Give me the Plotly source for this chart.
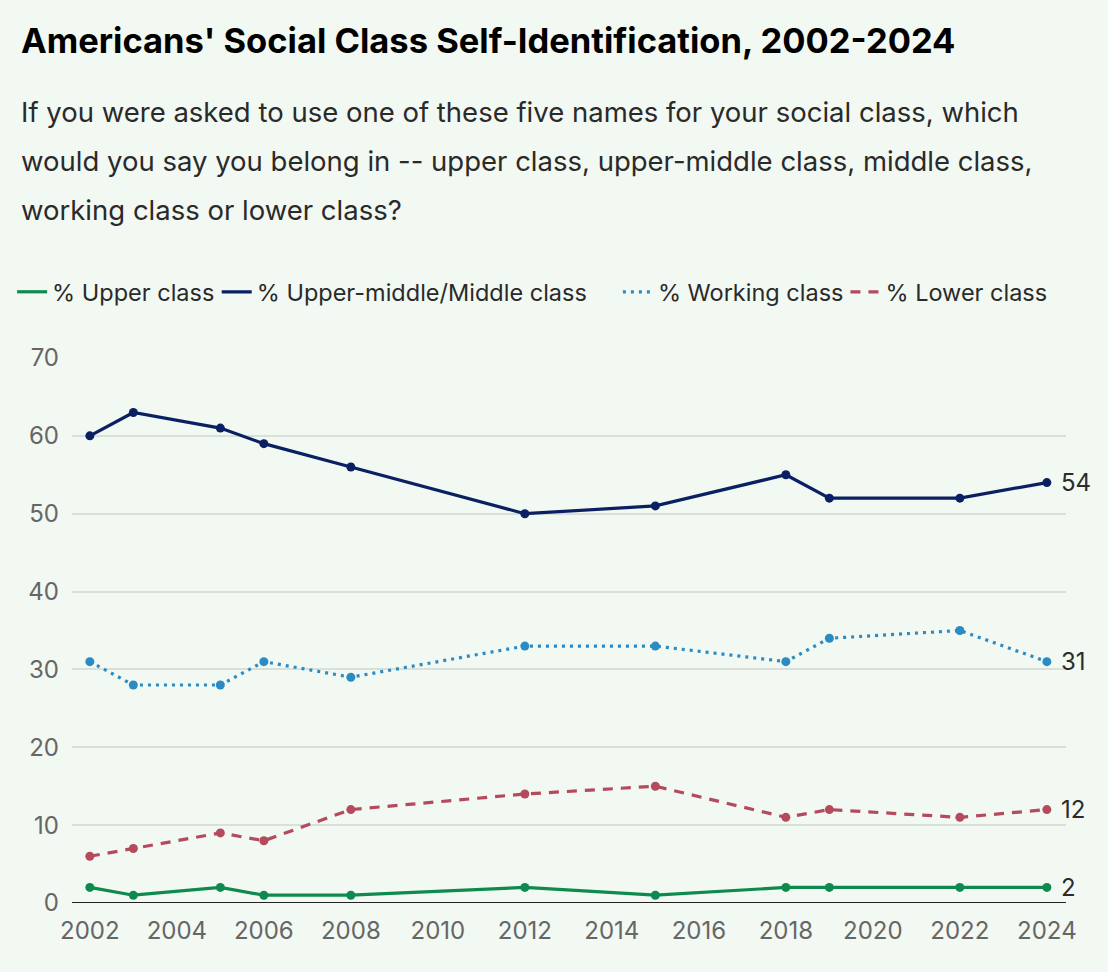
import plotly.graph_objects as go

years = [2002, 2003, 2005, 2006, 2008, 2012, 2015, 2018, 2019, 2022, 2024]
upper = [2, 1, 2, 1, 1, 2, 1, 2, 2, 2, 2]
middle = [60, 63, 61, 59, 56, 50, 51, 55, 52, 52, 54]
working = [31, 28, 28, 31, 29, 33, 33, 31, 34, 35, 31]
lower = [6, 7, 9, 8, 12, 14, 15, 11, 12, 11, 12]

series_names = ["% Upper class", "% Upper-middle/Middle class", "% Working class", "% Lower class"]
series_values = [upper, middle, working, lower]
colors = ["#0e8a4f", "#0b2063", "#2b8bc3", "#b44a5b"]
dashes = ["solid", "solid", "3px,5px", "10px,8px"]

x_ticks = list(range(2002, 2025, 2))
y_ticks = list(range(0, 71, 10))

BG = "#f2f8f2"
FONT = "Inter, Roboto, sans-serif"

W, H = 1108, 972
ML, MR, MT, MB = 70, 42, 358, 69
PW = W - ML - MR

fig = go.Figure()

for name, vals, col, dash in zip(series_names, series_values, colors, dashes):
    fig.add_trace(go.Scatter(
        x=years, y=vals, mode="lines+markers",
        line=dict(color=col, width=3.2, dash=dash),
        marker=dict(color=col, size=9),
        showlegend=False, hoverinfo="skip",
    ))
    fig.add_annotation(x=years[-1], y=vals[-1], text=str(vals[-1]),
                       xref="x", yref="y", showarrow=False, xanchor="left",
                       xshift=12, font=dict(family=FONT, size=24, color="#2b2b2b"))

# one legend per series, placed in a row above the plot
legend_ids = ["legend", "legend2", "legend3", "legend4"]
legend_px = [10, 215, 617, 845]
for name, col, dash, lid in zip(series_names, colors, dashes, legend_ids):
    fig.add_trace(go.Scatter(
        x=[None], y=[None], mode="lines", name=name, legend=lid,
        line=dict(color=col, width=3.2, dash=dash),
    ))

legend_layout = {}
for lid, px in zip(legend_ids, legend_px):
    legend_layout[lid] = dict(
        orientation="h", x=(px - ML) / PW, y=1 + 66 / (H - MT - MB),
        xanchor="left", yanchor="middle",
        font=dict(family=FONT, size=23.5, color="#2a2a2a"),
        itemwidth=30, bgcolor="rgba(0,0,0,0)",
    )

fig.add_annotation(text="<b>Americans' Social Class Self-Identification, 2002-2024</b>",
                   xref="paper", yref="paper", x=-0.053, y=1.0, yshift=318,
                   xanchor="left", yanchor="middle", showarrow=False,
                   font=dict(family=FONT, size=34.5, color="#000000"))
sub_lines = [
    "If you were asked to use one of these five names for your social class, which",
    "would you say you belong in -- upper class, upper-middle class, middle class,",
    "working class or lower class?",
]
for i, ln in enumerate(sub_lines):
    fig.add_annotation(text=ln, xref="paper", yref="paper", x=-0.053, y=1.0,
                       yshift=246 - 49 * i, xanchor="left", yanchor="middle",
                       showarrow=False, font=dict(family=FONT, size=27.5, color="#2a2a2a"))

fig.update_layout(
    width=W, height=H,
    paper_bgcolor=BG, plot_bgcolor=BG,
    margin=dict(l=ML, r=MR, t=MT, b=MB),
    font=dict(family=FONT, size=24, color="#666666"),
    xaxis=dict(range=[2001.59, 2024.44], tickvals=x_ticks, ticktext=[str(t) for t in x_ticks],
               showgrid=False, zeroline=False, showline=False, ticks="",
               ticklabelstandoff=11,
               tickfont=dict(family=FONT, size=24, color="#666666")),
    yaxis=dict(range=[0, 70], tickvals=y_ticks, showgrid=True, gridcolor="#d9dfd9",
               gridwidth=1.5, zeroline=False, showline=False, ticks="",
               ticklabelstandoff=12,
               tickfont=dict(family=FONT, size=24, color="#666666")),
    showlegend=True,
    **legend_layout,
)
fig.add_hline(y=0, line=dict(color="#222222", width=2))

fig.write_html("out.html", config={"displayModeBar": False},
               post_script="document.body.style.margin='0';document.body.style.overflow='hidden';document.body.style.background='#f2f8f2';")
